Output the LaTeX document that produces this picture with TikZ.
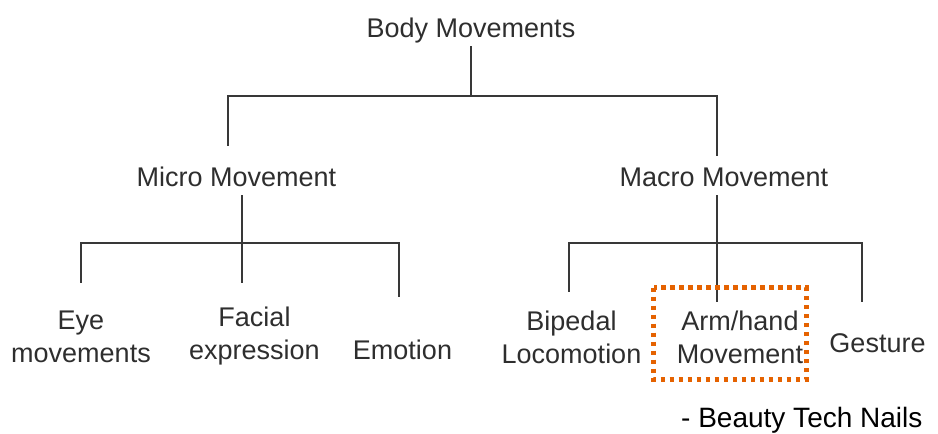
\documentclass[tikz,border=0pt]{standalone}
\usepackage{fontspec}
\setmainfont{Liberation Sans}
\begin{document}
\begin{tikzpicture}[x=1pt,y=-1pt,
  lbl/.style={font=\fontsize{27}{33}\selectfont, text=black!82, inner sep=0pt, anchor=base, align=center},
  link/.style={draw=black!78, line width=1.5pt},
  hl/.style={draw=orange!85!red!90!black, line width=5pt, dash pattern=on 4.5pt off 4.5pt}]
\useasboundingbox (0,0) rectangle (938,434);
% nodes (base anchor = baseline of the last line)
\node[lbl] (body) at (471,37) {Body Movements};
\node[lbl] (micro) at (236.5,186) {Micro Movement};
\node[lbl] (macro) at (724,186) {Macro Movement};
\node[lbl] (eye) at (81,362) {Eye\\movements};
\node[lbl] (facial) at (254.5,359) {Facial\\expression};
\node[lbl] (emotion) at (402.5,359) {Emotion};
\node[lbl] (biped) at (571.5,363) {Bipedal\\Locomotion};
\node[lbl] (arm) at (740,363) {Arm/hand\\Movement};
\node[lbl] (gesture) at (877.5,352) {Gesture};
\node[font=\fontsize{28}{33}\selectfont, inner sep=0pt, anchor=base west] (credit) at (681,427) {- Beauty Tech Nails};
% connector end points
\coordinate (bodyS) at (471,46);
\coordinate (j1) at (471,96);
\coordinate (microN) at (228,146);
\coordinate (macroN) at (717,156);
\coordinate (microS) at (242,195);
\coordinate (j2) at (242,243);
\coordinate (eyeN) at (81,283);
\coordinate (facialN) at (242,283);
\coordinate (emotionN) at (399,297);
\coordinate (macroS) at (717,195);
\coordinate (j3) at (717,243);
\coordinate (bipedN) at (569,292);
\coordinate (armN) at (717,302);
\coordinate (gestureN) at (862,302);
% connectors
\draw[link] (bodyS) -- (j1);
\draw[link] (j1) -| (microN);
\draw[link] (j1) -| (macroN);
\draw[link] (microS) -- (facialN);
\draw[link] (j2) -| (eyeN);
\draw[link] (j2) -| (emotionN);
\draw[link] (macroS) -- (armN);
\draw[link] (j3) -| (bipedN);
\draw[link] (j3) -| (gestureN);
% highlight
\draw[hl] (653.5,287.5) rectangle (806,379.5);
\end{tikzpicture}
\end{document}
